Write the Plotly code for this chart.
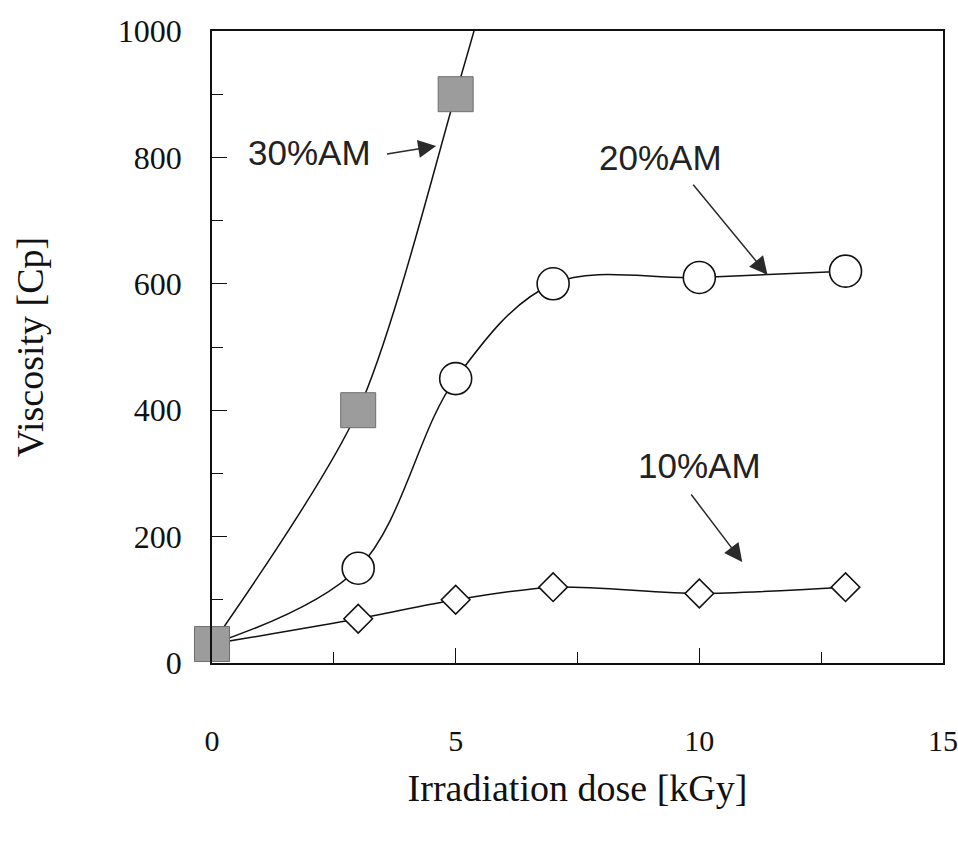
import plotly.graph_objects as go

# ---- data ----
dose_10 = [0, 3, 5, 7, 10, 13]
visc_10 = [30, 70, 100, 120, 110, 120]

dose_20 = [0, 3, 5, 7, 10, 13]
visc_20 = [30, 150, 450, 600, 610, 620]

dose_30 = [0, 3, 5]
visc_30 = [30, 400, 900]
# the 30%AM fitted curve leaves the frame at the top
curve_30_dose = dose_30 + [5.45]
curve_30_visc = visc_30 + [1020]

x_ticks = [0, 5, 10, 15]
y_ticks = [0, 200, 400, 600, 800, 1000]

serif = "Liberation Serif"
sans = "Liberation Sans"
ink = "#111111"

fig = go.Figure()

# 10%AM diamonds
fig.add_trace(go.Scatter(
    x=dose_10, y=visc_10, mode="lines+markers", cliponaxis=False,
    line=dict(color=ink, width=1.5, shape="spline", smoothing=0.8),
    marker=dict(symbol="diamond", size=22, color="white",
                line=dict(color=ink, width=1.6)),
    showlegend=False))

# 20%AM circles
fig.add_trace(go.Scatter(
    x=dose_20, y=visc_20, mode="lines+markers", cliponaxis=False,
    line=dict(color=ink, width=1.5, shape="spline", smoothing=1.0),
    marker=dict(symbol="circle", size=32, color="white",
                line=dict(color=ink, width=1.6)),
    showlegend=False))

# 30%AM curve + squares
fig.add_trace(go.Scatter(
    x=curve_30_dose, y=curve_30_visc, mode="lines", cliponaxis=False,
    line=dict(color=ink, width=1.5, shape="spline", smoothing=0.8),
    showlegend=False))
fig.add_trace(go.Scatter(
    x=dose_30, y=visc_30, mode="markers", cliponaxis=False,
    marker=dict(symbol="square", size=35, color="#9c9c9c",
                line=dict(color="#6e6e6e", width=1)),
    showlegend=False))

# labels and arrows
labels = [
    dict(text="30%AM", x=2.0, y=808),
    dict(text="20%AM", x=9.2, y=800),
    dict(text="10%AM", x=10.0, y=313),
]
for lab in labels:
    fig.add_annotation(x=lab["x"], y=lab["y"], text=lab["text"], showarrow=False,
                       font=dict(family=sans, size=35, color="#222222"))

arrows = [
    dict(x=4.6, y=818, ax=3.56, ay=805),
    dict(x=11.4, y=614, ax=9.85, ay=759),
    dict(x=10.88, y=160, ax=9.81, ay=269),
]
for a in arrows:
    fig.add_annotation(x=a["x"], y=a["y"], ax=a["ax"], ay=a["ay"],
                       xref="x", yref="y", axref="x", ayref="y",
                       text="", showarrow=True, arrowhead=2, arrowsize=2.4,
                       arrowwidth=1.5, arrowcolor="#2a2a2a")

fig.update_xaxes(
    range=[0, 15], tickvals=x_ticks, ticktext=[str(v) for v in x_ticks],
    showline=True, linecolor=ink, linewidth=1.5, mirror=True,
    ticks="inside", ticklen=15, tickwidth=1.3, tickcolor=ink,
    minor=dict(tickvals=[2.5, 7.5, 12.5], ticks="inside", ticklen=11,
               tickwidth=1.3, tickcolor=ink),
    showgrid=False, zeroline=False,
    tickfont=dict(family=serif, size=30, color=ink),
    ticklabelstandoff=50, ticklabeloverflow="allow",
    title=dict(text="Irradiation dose [kGy]", standoff=19,
               font=dict(family=serif, size=38, color=ink)),
)
fig.update_yaxes(
    range=[0, 1000], tickvals=y_ticks, ticktext=[str(v) for v in y_ticks],
    showline=True, linecolor=ink, linewidth=1.5, mirror=True,
    ticks="inside", ticklen=15, tickwidth=1.3, tickcolor=ink,
    minor=dict(tickvals=[100, 300, 500, 700, 900], ticks="inside", ticklen=11,
               tickwidth=1.3, tickcolor=ink),
    showgrid=False, zeroline=False,
    tickfont=dict(family=serif, size=32, color=ink),
    ticklabelstandoff=22, ticklabeloverflow="allow",
    title=dict(text="Viscosity [Cp]", standoff=63,
               font=dict(family=serif, size=38, color=ink)),
)

fig.update_layout(
    width=958, height=848,
    margin=dict(l=212, r=15, t=31, b=185, autoexpand=False),
    plot_bgcolor="white", paper_bgcolor="white",
)

fig.write_html(
    "out.html",
    config={"displayModeBar": False},
    post_script="document.body.style.margin='0';document.body.style.overflow='hidden';",
)
